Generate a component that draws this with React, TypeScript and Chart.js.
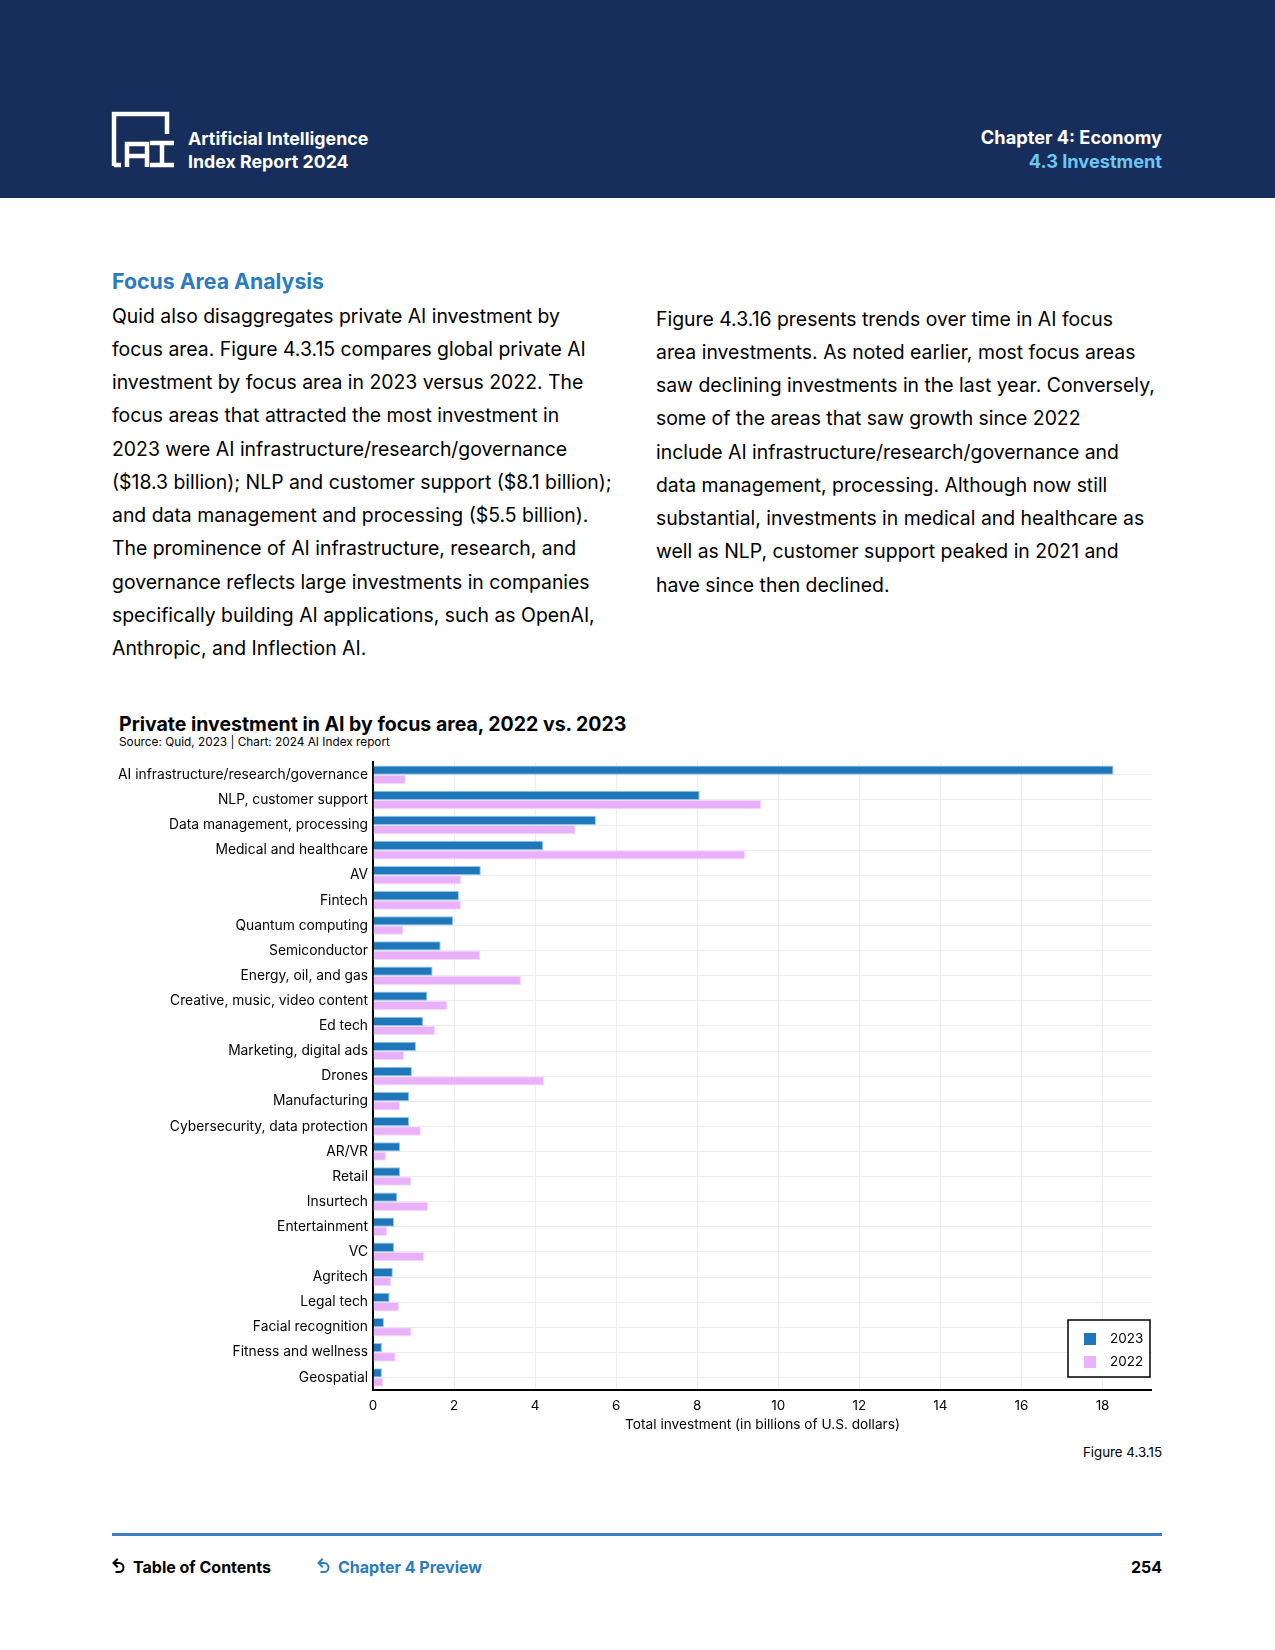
import React, { useEffect, useRef } from "react";
import { Chart, registerables } from "chart.js";

Chart.register(...registerables);

const categories = [
  "AI infrastructure/research/governance",
  "NLP, customer support",
  "Data management, processing",
  "Medical and healthcare",
  "AV",
  "Fintech",
  "Quantum computing",
  "Semiconductor",
  "Energy, oil, and gas",
  "Creative, music, video content",
  "Ed tech",
  "Marketing, digital ads",
  "Drones",
  "Manufacturing",
  "Cybersecurity, data protection",
  "AR/VR",
  "Retail",
  "Insurtech",
  "Entertainment",
  "VC",
  "Agritech",
  "Legal tech",
  "Facial recognition",
  "Fitness and wellness",
  "Geospatial",
];

const values2023 = [
  18.27, 8.06, 5.5, 4.2, 2.66, 2.12, 1.98, 1.67, 1.47, 1.34, 1.24, 1.06, 0.96,
  0.89, 0.89, 0.67, 0.67, 0.6, 0.52, 0.52, 0.49, 0.41, 0.27, 0.22, 0.22,
];

const values2022 = [
  0.81, 9.58, 5.0, 9.18, 2.18, 2.17, 0.75, 2.65, 3.65, 1.84, 1.53, 0.77, 4.22,
  0.67, 1.18, 0.32, 0.95, 1.36, 0.35, 1.26, 0.45, 0.64, 0.95, 0.56, 0.25,
];

const seriesLabels = ["2023", "2022"];
const xTickStep = 2;
const xAxisMax = 19.22;

const FONT = "Inter, 'Noto Sans', 'DejaVu Sans', sans-serif";
const BLUE = "#1f77b9";
const PINK = "#eab1fb";

const leftLines = [
  "Quid also disaggregates private AI investment by",
  "focus area. Figure 4.3.15 compares global private AI",
  "investment by focus area in 2023 versus 2022. The",
  "focus areas that attracted the most investment in",
  "2023 were AI infrastructure/research/governance",
  "($18.3 billion); NLP and customer support ($8.1 billion);",
  "and data management and processing ($5.5 billion).",
  "The prominence of AI infrastructure, research, and",
  "governance reflects large investments in companies",
  "specifically building AI applications, such as OpenAI,",
  "Anthropic, and Inflection AI.",
];

const rightLines = [
  "Figure 4.3.16 presents trends over time in AI focus",
  "area investments. As noted earlier, most focus areas",
  "saw declining investments in the last year. Conversely,",
  "some of the areas that saw growth since 2022",
  "include AI infrastructure/research/governance and",
  "data management, processing. Although now still",
  "substantial, investments in medical and healthcare as",
  "well as NLP, customer support peaked in 2021 and",
  "have since then declined.",
];

const insideLegend = {
  id: "insideLegend",
  afterDraw(chart: any) {
    const { ctx, chartArea } = chart;
    const w = 82;
    const h = 57;
    const x = chartArea.right - 2 - w;
    const y = chartArea.bottom - 13 - h;
    ctx.save();
    ctx.fillStyle = "#ffffff";
    ctx.fillRect(x, y, w, h);
    ctx.strokeStyle = "#000000";
    ctx.lineWidth = 1.5;
    ctx.strokeRect(x, y, w, h);
    chart.data.datasets.forEach((ds: any, i: number) => {
      const cy = y + 19 + i * 23;
      ctx.fillStyle = ds.backgroundColor;
      ctx.fillRect(x + 16, cy - 6, 12, 12);
      ctx.fillStyle = "#000000";
      ctx.font = `13.5px ${FONT}`;
      ctx.textBaseline = "middle";
      ctx.textAlign = "left";
      ctx.fillText(ds.label, x + 42, cy);
    });
    ctx.restore();
  },
};

const CANVAS_TOP = 749;
const CANVAS_H = 691;

function BarChart() {
  const ref = useRef<HTMLCanvasElement | null>(null);
  useEffect(() => {
    if (!ref.current) return;
    const chart = new Chart(ref.current, {
      type: "bar",
      data: {
        labels: categories,
        datasets: [
          {
            label: seriesLabels[0],
            data: values2023,
            backgroundColor: BLUE,
            borderColor: "#8fc6ee",
            borderWidth: 1,
            categoryPercentage: 0.74,
            barPercentage: 1.0,
          },
          {
            label: seriesLabels[1],
            data: values2022,
            backgroundColor: PINK,
            borderColor: "#f4d8fd",
            borderWidth: 1,
            categoryPercentage: 0.74,
            barPercentage: 1.0,
          },
        ],
      },
      options: {
        indexAxis: "y",
        animation: false,
        responsive: false,
        maintainAspectRatio: false,
        layout: { padding: 0 },
        plugins: {
          legend: { display: false },
          tooltip: { enabled: false },
        },
        scales: {
          x: {
            type: "linear",
            min: 0,
            max: xAxisMax,
            ticks: {
              stepSize: xTickStep,
              includeBounds: false,
              color: "#000000",
              font: { size: 13.5, family: FONT },
              padding: 8,
            },
            grid: { color: "#ececec", lineWidth: 1, drawTicks: false },
            border: { display: true, color: "#000000", width: 2 },
            title: {
              display: true,
              text: "Total investment (in billions of U.S. dollars)",
              color: "#000000",
              font: { size: 13.7, family: FONT },
              padding: { top: 0, bottom: 7 },
            },
            afterFit: (s: any) => {
              s.height = 50;
            },
          },
          y: {
            ticks: {
              color: "#000000",
              font: { size: 13.8, family: FONT },
              padding: 5,
              autoSkip: false,
            },
            grid: { color: "#ececec", offset: false, drawTicks: false },
            border: { display: true, color: "#000000", width: 2 },
            afterFit: (s: any) => {
              s.width = 273;
            },
          },
        },
      } as any,
      plugins: [insideLegend],
    });
    return () => chart.destroy();
  }, []);
  return (
    <canvas
      ref={ref}
      width={1052}
      height={CANVAS_H}
      style={{
        position: "absolute",
        left: 100,
        top: CANVAS_TOP,
        width: 1052,
        height: CANVAS_H,
      }}
    />
  );
}

function Txt(props: {
  x?: number;
  right?: number;
  cy: number;
  size: number;
  weight?: number;
  color?: string;
  children: React.ReactNode;
}) {
  const lh = Math.round(props.size * 1.4);
  const style: React.CSSProperties = {
    position: "absolute",
    top: props.cy - lh / 2,
    lineHeight: `${lh}px`,
    fontSize: props.size,
    fontWeight: props.weight ?? 400,
    color: props.color ?? "#000",
    whiteSpace: "nowrap",
    fontFamily: FONT,
  };
  if (props.right !== undefined) {
    style.right = 1275 - props.right;
    style.textAlign = "right";
  } else {
    style.left = props.x;
  }
  return <div style={style}>{props.children}</div>;
}

function BackIcon({ x, cy, color }: { x: number; cy: number; color: string }) {
  return (
    <svg
      width={14}
      height={18}
      viewBox="0 0 14 18"
      style={{ position: "absolute", left: x, top: cy - 9 }}
    >
      <path
        d="M5 1.5 L1.5 5 L5 8.5 M2 5 H7 A4.5 4.5 0 0 1 7 14 H4.5"
        fill="none"
        stroke={color}
        strokeWidth={2}
        strokeLinecap="square"
        strokeLinejoin="miter"
      />
    </svg>
  );
}

export default function App() {
  return (
    <div
      style={{
        position: "absolute",
        left: 0,
        top: 0,
        width: 1275,
        height: 1650,
        background: "#ffffff",
        overflow: "hidden",
        fontFamily: FONT,
      }}
    >
      {/* Header */}
      <div
        style={{
          position: "absolute",
          left: 0,
          top: 0,
          width: 1275,
          height: 198,
          background: "#172d5b",
        }}
      />
      <svg
        width={70}
        height={62}
        viewBox="0 0 70 62"
        style={{ position: "absolute", left: 110, top: 110 }}
      >
        <path
          d="M4 56 V4 H57 V24"
          fill="none"
          stroke="#ffffff"
          strokeWidth={4.5}
          strokeLinejoin="miter"
        />
        <path d="M4 55 H11" fill="none" stroke="#ffffff" strokeWidth={4.5} />
        <path
          d="M17 57 V34 H37 V57 M17 46 H37"
          fill="none"
          stroke="#ffffff"
          strokeWidth={4.5}
        />
        <path
          d="M40 33 H64 M52 33 V55 M40 55 H64"
          fill="none"
          stroke="#ffffff"
          strokeWidth={4.5}
        />
      </svg>
      <Txt x={188} cy={138} size={17.8} weight={700} color="#ffffff">
        Artificial Intelligence
      </Txt>
      <Txt x={188} cy={161} size={17.8} weight={700} color="#ffffff">
        Index Report 2024
      </Txt>
      <Txt right={1162} cy={137} size={18.2} weight={700} color="#ffffff">
        Chapter 4: Economy
      </Txt>
      <Txt right={1162} cy={161} size={18.2} weight={700} color="#6cc7f2">
        4.3 Investment
      </Txt>

      {/* Section heading and body text */}
      <Txt x={112} cy={280.5} size={21.3} weight={700} color="#2b7bbf">
        Focus Area Analysis
      </Txt>
      {leftLines.map((l, i) => (
        <Txt key={"l" + i} x={112} cy={316 + i * 33.25} size={19.4}>
          {l}
        </Txt>
      ))}
      {rightLines.map((l, i) => (
        <Txt key={"r" + i} x={656} cy={319 + i * 33.25} size={19.4}>
          {l}
        </Txt>
      ))}

      {/* Chart title */}
      <Txt x={119} cy={724} size={19.5} weight={700}>
        Private investment in AI by focus area, 2022 vs. 2023
      </Txt>
      <Txt x={119} cy={742} size={11.8}>
        Source: Quid, 2023 | Chart: 2024 AI Index report
      </Txt>

      <BarChart />

      <Txt right={1162} cy={1452} size={13.3}>
        Figure 4.3.15
      </Txt>

      {/* Footer */}
      <div
        style={{
          position: "absolute",
          left: 112,
          top: 1533,
          width: 1050,
          height: 3,
          background: "#3d7fc0",
        }}
      />
      <BackIcon x={112} cy={1567} color="#000000" />
      <Txt x={133} cy={1567} size={16} weight={700}>
        Table of Contents
      </Txt>
      <BackIcon x={317} cy={1567} color="#2b7bbf" />
      <Txt x={338} cy={1567} size={16} weight={700} color="#2b7bbf">
        Chapter 4 Preview
      </Txt>
      <Txt right={1162} cy={1567} size={16} weight={700}>
        254
      </Txt>
    </div>
  );
}
